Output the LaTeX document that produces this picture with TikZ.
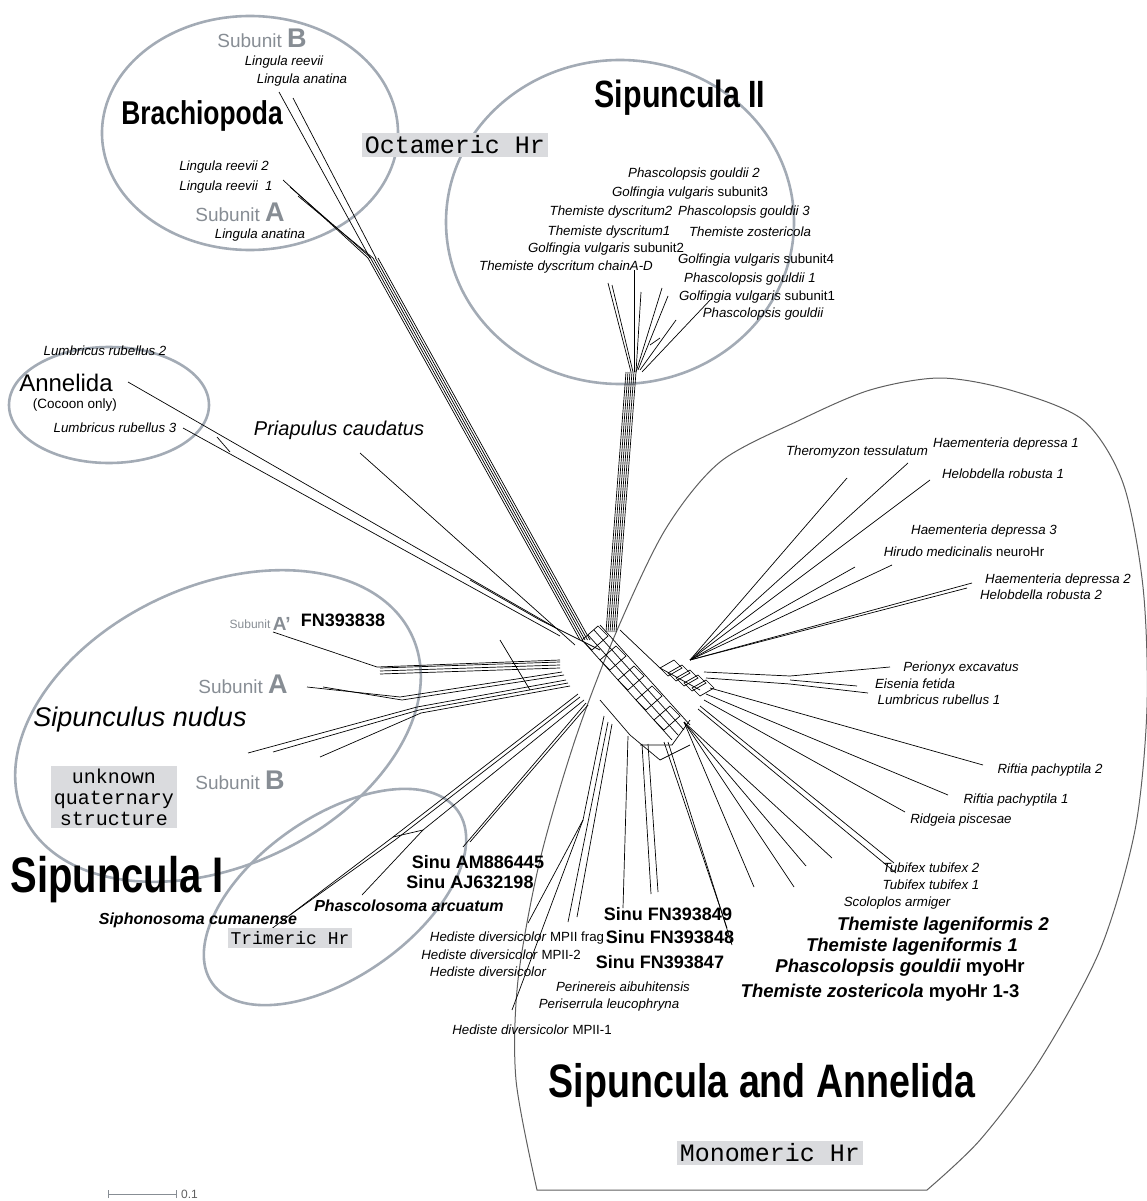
\documentclass[tikz,border=0pt]{standalone}
\usepackage{fontspec}
\setmainfont{Liberation Sans}
\setmonofont{Liberation Mono}
\newfontfamily\headfont{Liberation Sans Bold}[FakeStretch=0.8]
\usetikzlibrary{positioning}

\definecolor{ringgray}{RGB}{163,171,181}
\definecolor{subgray}{RGB}{135,141,148}
\definecolor{hrgray}{RGB}{218,219,222}
\definecolor{edgegray}{RGB}{95,95,95}

\tikzset{
  sp/.style={font=\fontsize{13.3}{15}\selectfont\itshape, inner sep=0pt},
  acc/.style={font=\fontsize{18}{20}\selectfont\bfseries, inner sep=0pt},
  spbold/.style={font=\fontsize{18.5}{20}\selectfont\bfseries\itshape, inner sep=0pt},
  group/.style={font=\headfont\fontsize{#1}{#1}\selectfont, inner sep=0pt},
  subunit/.style={text=subgray, font=\fontsize{19}{20}\selectfont, inner sep=0pt},
  hrbox/.style={fill=hrgray, font=\ttfamily\fontsize{#1}{#1}\selectfont, inner sep=3pt},
  ring/.style={draw=ringgray, line width=2.6pt},
  branch/.style={line width=0.7pt},
}

\begin{document}
\begin{tikzpicture}[x=1pt,y=-1pt]
  \useasboundingbox (0,0) rectangle (1147,1201);

  % group outlines
  \draw[ring] (250,133) ellipse (148pt and 117pt);
  \draw[ring] (620,222) ellipse (174pt and 162pt);
  \draw[ring] (109,405) ellipse (100pt and 58pt);
  \draw[ring, rotate around={25:(218,726)}] (218,726) ellipse (214pt and 140pt);
  \draw[ring, rotate around={35:(335,897)}] (335,897) ellipse (150pt and 80pt);
  \draw[edgegray, line width=1pt] plot[smooth] coordinates {(537,1190) (516,1080) (518,980)
      (540,860) (575,740) (615,635) (665,530) (720,462) (800,420) (870,390) (940,378)
      (1010,390) (1083,420) (1123,483) (1143,587) (1147,707) (1135,830) (1100,950)
      (1040,1060) (980,1140) (927,1190)} -- cycle;

  % network core
  \foreach \i in {0,2,...,8}
    \draw[branch] ({582+9*\i},{640+10*\i}) -- ++(16,-14) -- ++(10,10) -- ++(-16,14) -- cycle;
  \foreach \d in {0,6,12,18}
    \draw[branch] ({582+\d},{640-5*\d/6}) -- ({672+\d},{740-5*\d/6});
  \foreach \i in {0,...,4}
    \draw[branch] ({660+8*\i},{668+5*\i}) -- ++(14,-8) -- ++(8,8) -- ++(-14,8) -- cycle;
  \draw[branch] (620,630) -- (660,668) -- (700,690);
  \draw[branch] (640,745) -- (672,745) -- (690,720);
  \draw[branch] (600,700) -- (630,735) -- (660,760) -- (690,745);

  % Brachiopoda
  \foreach \d in {0,2.5,5,7.5,10}
    \draw[branch] ({368+\d},258) -- ({580+\d},640);
  \draw[branch] (279,92) -- (370,258);
  \draw[branch] (293,98) -- (376,258);
  \draw[branch] (283,180) -- (368,258);
  \draw[branch] (290,187) -- (371,258);
  \draw[branch] (298,196) -- (373,258);

  % Sipuncula II
  \foreach \d in {0,2,4,6,8,10}
    \draw[branch] ({626+\d},372) -- ({606+\d},632);
  \draw[branch] (608,283) -- (631,372);
  \draw[branch] (612,285) -- (633,372);
  \draw[branch] (634,270) -- (634,372);
  \draw[branch] (641,292) -- (636,372);
  \draw[branch] (662,288) -- (636,372);
  \draw[branch] (668,296) -- (638,370);
  \draw[branch] (676,320) -- (640,370);
  \draw[branch] (712,298) -- (642,372);
  \draw[branch] (650,345) -- (660,338);

  % Annelida (cocoon) and Priapulus
  \draw[branch] (128,382) -- (556,628);
  \draw[branch] (183,428) -- (560,636);
  \draw[branch] (217,437) -- (230,452);
  \draw[branch] (360,453) -- (575,645);

  % Sipunculus nudus
  \draw[branch] (273,632) -- (377,667) -- (560,660);
  \foreach \d in {0,3,6}
    \draw[branch] ({380},{668+\d}) -- (560,{662+\d});
  \draw[branch] (307,687) -- (400,697) -- (562,672);
  \draw[branch] (323,687) -- (402,700) -- (564,675);
  \draw[branch] (248,753) -- (417,707) -- (566,680);
  \draw[branch] (273,752) -- (419,710) -- (568,683);
  \draw[branch] (320,757) -- (421,713) -- (570,686);
  \draw[branch] (470,580) -- (540,620) -- (600,650);
  \draw[branch] (500,640) -- (530,690);

  % Trimeric group
  \draw[branch] (270,930) -- (393,837) -- (578,694);
  \draw[branch] (290,915) -- (395,840) -- (580,697);
  \draw[branch] (362,895) -- (423,830) -- (584,700);
  \draw[branch] (463,847) -- (586,703);
  \draw[branch] (470,842) -- (588,705);
  \draw[branch] (393,837) -- (423,830);

  % Hediste and Sinu FN
  \draw[branch] (528,923) -- (583,820) -- (604,716);
  \draw[branch] (512,1010) -- (583,820);
  \draw[branch] (568,922) -- (608,722);
  \draw[branch] (577,917) -- (612,724);
  \draw[branch] (623,908) -- (628,736);
  \draw[branch] (651,894) -- (642,744);
  \draw[branch] (658,892) -- (648,744);

  % Themiste, Tubifex, Riftia
  \draw[branch] (727,928) -- (664,742);
  \draw[branch] (732,945) -- (668,742);
  \foreach \tx/\ty in {754/887, 794/887, 806/866, 832/858}
    \draw[branch] (\tx,\ty) -- (684,722);
  \draw[branch] (894,863) -- (700,706);
  \draw[branch] (896,873) -- (698,709);
  \draw[branch] (905,812) -- (704,700);
  \draw[branch] (948,795) -- (706,694);
  \draw[branch] (983,765) -- (710,688);

  % earthworms and leeches
  \draw[branch] (890,667) -- (790,676) -- (704,672);
  \draw[branch] (857,686) -- (790,680);
  \draw[branch] (868,693) -- (790,684) -- (706,678);
  \foreach \tx/\ty in {847/478, 908/463, 930/480, 855/567, 892/565, 972/583, 967/588}
    \draw[branch] (\tx,\ty) -- (690,660);

  % Brachiopoda labels
  \node[subunit] (subB1) at (262,38) {Subunit {\fontsize{27}{27}\selectfont\bfseries B}};
  \node[sp] (lre) at (284,62) {Lingula reevii};
  \node[sp] (lan1) at (302,80) {Lingula anatina};
  \node[group=33] (brachio) at (202,116) {Brachiopoda};
  \node[sp] (lre2) at (224,167) {Lingula reevii 2};
  \node[sp] (lre1) at (226,187) {Lingula reevii\ \ 1};
  \node[subunit] (subA1) at (240,212) {Subunit {\fontsize{27}{27}\selectfont\bfseries A}};
  \node[sp] (lan2) at (260,235) {Lingula anatina};
  \node[hrbox=25] (octa) at (455,145) {Octameric Hr};

  % Sipuncula II labels
  \node[group=38] (sip2) at (680,98) {Sipuncula II};
  \node[sp] (pg2) at (694,174) {Phascolopsis gouldii 2};
  \node[sp] (gv3) at (690,193) {Golfingia vulgaris \textup{subunit3}};
  \node[sp] (td2) at (611,212) {Themiste dyscritum2};
  \node[sp] (pg3) at (744,212) {Phascolopsis gouldii 3};
  \node[sp] (td1) at (609,232) {Themiste dyscritum1};
  \node[sp] (tz) at (750,232) {Themiste zostericola};
  \node[sp] (gv2) at (606,249) {Golfingia vulgaris \textup{subunit2}};
  \node[sp] (tdad) at (566,267) {Themiste dyscritum chainA-D};
  \node[sp] (gv4) at (756,260) {Golfingia vulgaris \textup{subunit4}};
  \node[sp] (pg1) at (750,279) {Phascolopsis gouldii 1};
  \node[sp] (gv1) at (757,297) {Golfingia vulgaris \textup{subunit1}};
  \node[sp] (pg) at (763,314) {Phascolopsis gouldii};

  % Annelida (cocoon) labels
  \node[sp] (lr2) at (105,351) {Lumbricus rubellus 2};
  \node[font=\fontsize{24}{24}\selectfont, inner sep=0pt] (annel) at (66,383) {Annelida};
  \node[font=\fontsize{13.5}{15}\selectfont, inner sep=0pt] (cocoon) at (75,405) {(Cocoon only)};
  \node[sp] (lr3) at (115,428) {Lumbricus rubellus 3};
  \node[sp, font=\fontsize{20}{22}\selectfont\itshape] (pria) at (339,430) {Priapulus caudatus};

  % Sipunculus nudus labels
  \node[text=subgray, font=\fontsize{12}{13}\selectfont, inner sep=0pt] (subAp) at (250,624) {Subunit};
  \node[text=subgray, font=\fontsize{19}{20}\selectfont\bfseries, inner sep=0pt, right=2pt of subAp.east, anchor=west] (subApL) {A’};
  \node[acc] (fn38) at (343,620) {FN393838};
  \node[subunit] (subA2) at (243,684) {Subunit {\fontsize{27}{27}\selectfont\bfseries A}};
  \node[font=\fontsize{27}{29}\selectfont\itshape, inner sep=0pt] (snud) at (140,720) {Sipunculus nudus};
  \node[subunit] (subB2) at (240,780) {Subunit {\fontsize{27}{27}\selectfont\bfseries B}};
  \node[hrbox=20, align=center, font=\ttfamily\fontsize{20}{21}\selectfont] (unk) at (114,797) {unknown\\quaternary\\structure};
  \node[group=50] (sip1) at (117,880) {Sipuncula I};

  % Trimeric group labels
  \node[acc] (am) at (478,862) {Sinu AM886445};
  \node[acc] (aj) at (470,882) {Sinu AJ632198};
  \node[spbold, font=\fontsize{16}{18}\selectfont\bfseries\itshape] (parc) at (409,906) {Phascolosoma arcuatum};
  \node[spbold, font=\fontsize{16}{18}\selectfont\bfseries\itshape] (scum) at (198,920) {Siphonosoma cumanense};
  \node[hrbox=18] (tri) at (290,938) {Trimeric Hr};

  % bottom labels
  \node[sp] (hdf) at (517,938) {Hediste diversicolor \textup{MPII frag}};
  \node[sp] (hd2) at (501,955) {Hediste diversicolor \textup{MPII-2}};
  \node[sp] (hd) at (488,972) {Hediste diversicolor};
  \node[acc] (fn49) at (668,914) {Sinu FN393849};
  \node[acc] (fn48) at (670,937) {Sinu FN393848};
  \node[acc] (fn47) at (660,962) {Sinu FN393847};
  \node[sp] (pai) at (623,987) {Perinereis aibuhitensis};
  \node[sp] (pleu) at (609,1005) {Periserrula leucophryna};
  \node[sp] (hd1) at (532,1030) {Hediste diversicolor \textup{MPII-1}};
  \node[group=47] (sipann) at (762,1085) {Sipuncula and Annelida};
  \node[hrbox=25] (mono) at (770,1153) {Monomeric Hr};

  % right side labels
  \node[sp] (ther) at (857,452) {Theromyzon tessulatum};
  \node[sp] (hde1) at (1006,444) {Haementeria depressa 1};
  \node[sp] (hro1) at (1003,474) {Helobdella robusta 1};
  \node[sp] (hde3) at (984,531) {Haementeria depressa 3};
  \node[sp] (hir) at (964,552) {Hirudo medicinalis \textup{neuroHr}};
  \node[sp] (hde2) at (1058,580) {Haementeria depressa 2};
  \node[sp] (hro2) at (1041,595) {Helobdella robusta 2};
  \node[sp] (peri) at (961,668) {Perionyx excavatus};
  \node[sp] (eis) at (915,684) {Eisenia fetida};
  \node[sp] (lr1) at (939,700) {Lumbricus rubellus 1};
  \node[sp] (rif2) at (1050,770) {Riftia pachyptila 2};
  \node[sp] (rif1) at (1016,800) {Riftia pachyptila 1};
  \node[sp] (ridg) at (961,820) {Ridgeia piscesae};
  \node[sp] (tub2) at (931,868) {Tubifex tubifex 2};
  \node[sp] (tub1) at (931,885) {Tubifex tubifex 1};
  \node[sp] (scol) at (897,903) {Scoloplos armiger};
  \node[spbold] (tl2) at (943,926) {Themiste lageniformis 2};
  \node[spbold] (tl1) at (912,947) {Themiste lageniformis 1};
  \node[spbold] (pgm) at (900,968) {Phascolopsis gouldii \textup{myoHr}};
  \node[spbold] (tzm) at (880,993) {Themiste zostericola \textup{myoHr 1-3}};

  % scale bar
  \coordinate (bar0) at (108,1194);
  \coordinate (bar1) at (176,1194);
  \draw[subgray, line width=0.8pt] (bar0) -- (bar1);
  \draw[subgray, line width=0.8pt] ([yshift=-4pt]bar0) -- ([yshift=4pt]bar0);
  \draw[subgray, line width=0.8pt] ([yshift=-4pt]bar1) -- ([yshift=4pt]bar1);
  \node[font=\fontsize{12}{13}\selectfont, text=edgegray, anchor=west, inner sep=0pt] (barlab) at (181,1194) {0.1};
\end{tikzpicture}
\end{document}
